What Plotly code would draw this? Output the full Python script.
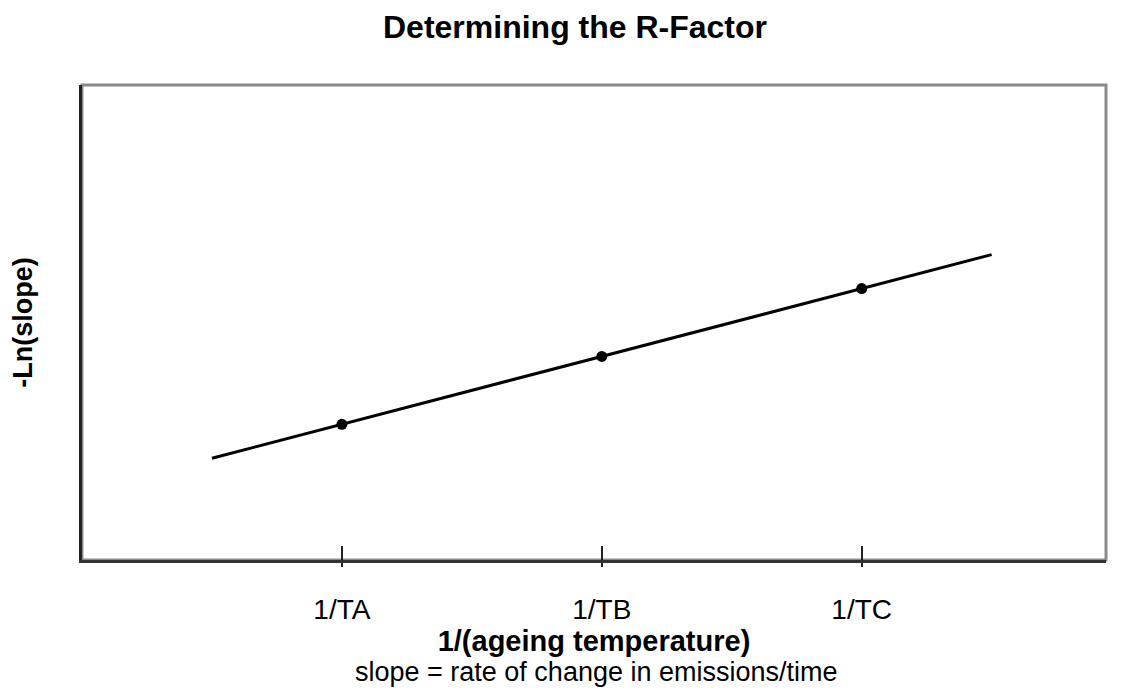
import plotly.graph_objects as go

# Data
categories = ["1/TA", "1/TB", "1/TC"]
inv_temp = [1, 2, 3]
neg_ln_slope = [1, 2, 3]
fit_x = [0.5, 3.5]
fit_y = [0.5, 3.5]

FONT = "Liberation Sans, Arial, sans-serif"

fig = go.Figure()
fig.add_trace(go.Scatter(x=fit_x, y=fit_y, mode="lines",
                         line=dict(color="black", width=3), hoverinfo="skip",
                         showlegend=False))
fig.add_trace(go.Scatter(x=inv_temp, y=neg_ln_slope, mode="markers",
                         marker=dict(color="black", size=11), showlegend=False))
# invisible trace to anchor the overlay axis used for inner tick marks
fig.add_trace(go.Scatter(x=inv_temp, y=neg_ln_slope, xaxis="x2", mode="markers",
                         marker=dict(opacity=0), hoverinfo="skip", showlegend=False))

fig.update_layout(
    width=1117, height=692,
    margin=dict(l=74, r=19, t=77, b=140),
    paper_bgcolor="white", plot_bgcolor="white",
    font=dict(family=FONT, color="black", size=27),
    title=dict(text="<b>Determining the R-Factor</b>", x=567/1117, xanchor="center",
               y=1 - 19/692, yanchor="middle", yref="container",
               font=dict(size=32, family=FONT, color="black")),
    xaxis=dict(range=[0, 3.94], tickvals=inv_temp, ticktext=categories,
               ticks="outside", ticklen=4, tickwidth=2, tickcolor="#222",
               showline=True, linecolor="#333", linewidth=3,
               showgrid=False, zeroline=False, ticklabelstandoff=18,
               tickfont=dict(size=28, family=FONT, color="black"),
               title=dict(text="<b>1/(ageing temperature)</b>", standoff=0,
                          font=dict(size=29, family=FONT, color="black"))),
    xaxis2=dict(range=[0, 3.94], overlaying="x", anchor="y", side="bottom",
                tickvals=inv_temp, ticks="inside", ticklen=14, tickwidth=2,
                tickcolor="#222", showticklabels=False, showline=False,
                showgrid=False, zeroline=False),
    yaxis=dict(range=[-1, 6], showticklabels=False, ticks="",
               showline=True, linecolor="#222", linewidth=3,
               showgrid=False, zeroline=False,
               title=dict(text="<b>-Ln(slope)</b>", standoff=40,
                          font=dict(size=27, family=FONT, color="black"))),
    shapes=[dict(type="rect", xref="x domain", yref="y domain", x0=0, x1=1, y0=0, y1=1,
                 line=dict(color="#8a8a8a", width=3), layer="below")],
    annotations=[dict(text="slope = rate of change in emissions/time",
                      xref="paper", yref="paper", x=(596 - 82) / 1024, y=-(672 - 560) / 475,
                      xanchor="center", yanchor="middle", showarrow=False,
                      font=dict(size=27, family=FONT, color="black"))],
)

fig.write_html("out.html")
